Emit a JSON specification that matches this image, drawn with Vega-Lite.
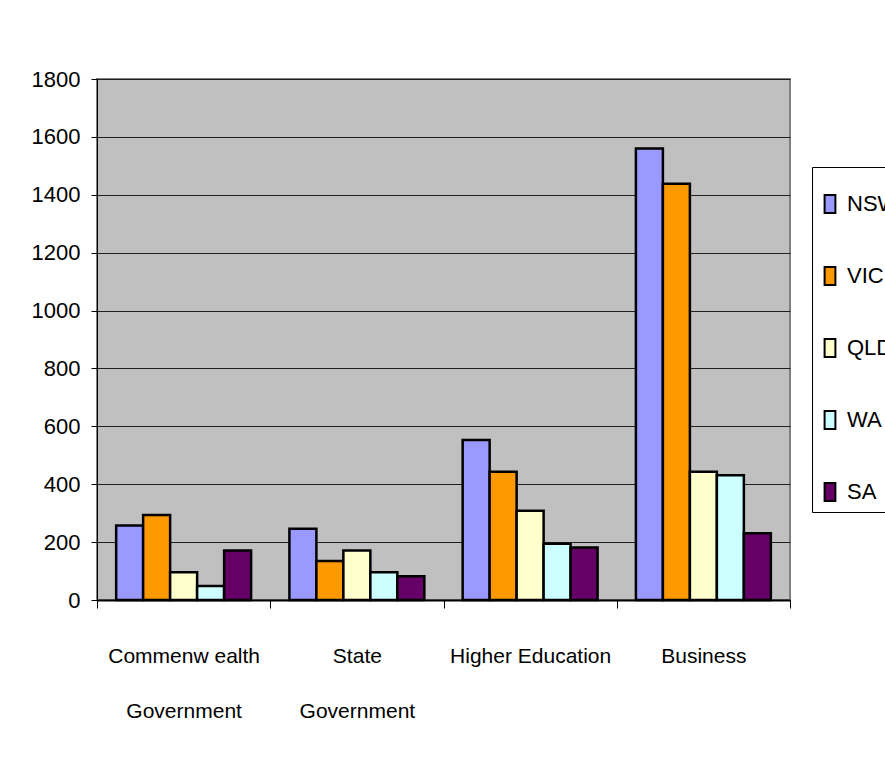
{
  "$schema": "https://vega.github.io/schema/vega-lite/v6.json",
  "width": 693,
  "height": 521,
  "autosize": {"type": "none"},
  "padding": {"left": 97, "top": 79, "right": 95, "bottom": 182},
  "background": "#ffffff",
  "config": {
    "font": "Liberation Sans Narrow, Arial Narrow, Liberation Sans",
    "view": {"fill": "#C0C0C0", "stroke": "#808080", "strokeWidth": 2},
    "axis": {"labelColor": "#000000", "labelFont": "Liberation Sans Narrow, Arial Narrow, Liberation Sans"},
    "legend": {"labelFont": "Liberation Sans Narrow, Arial Narrow, Liberation Sans"}
  },
  "data": {
    "values": [
      {"category": "Commenw ealth Government", "state": "NSW", "value": 257},
      {"category": "Commenw ealth Government", "state": "VIC", "value": 294},
      {"category": "Commenw ealth Government", "state": "QLD", "value": 96},
      {"category": "Commenw ealth Government", "state": "WA", "value": 48},
      {"category": "Commenw ealth Government", "state": "SA", "value": 171},
      {"category": "State Government", "state": "NSW", "value": 246},
      {"category": "State Government", "state": "VIC", "value": 135},
      {"category": "State Government", "state": "QLD", "value": 171},
      {"category": "State Government", "state": "WA", "value": 96},
      {"category": "State Government", "state": "SA", "value": 82},
      {"category": "Higher Education", "state": "NSW", "value": 553},
      {"category": "Higher Education", "state": "VIC", "value": 443},
      {"category": "Higher Education", "state": "QLD", "value": 308},
      {"category": "Higher Education", "state": "WA", "value": 194},
      {"category": "Higher Education", "state": "SA", "value": 181},
      {"category": "Business", "state": "NSW", "value": 1560},
      {"category": "Business", "state": "VIC", "value": 1438},
      {"category": "Business", "state": "QLD", "value": 443},
      {"category": "Business", "state": "WA", "value": 431},
      {"category": "Business", "state": "SA", "value": 231}
    ]
  },
  "mark": {"type": "bar", "stroke": "#000000", "strokeWidth": 2.5},
  "encoding": {
    "x": {
      "field": "category",
      "type": "nominal",
      "sort": null,
      "scale": {"paddingInner": 0, "paddingOuter": 0},
      "axis": {
        "title": null,
        "labelAngle": 0,
        "labelFontSize": 21,
        "labelLineHeight": 55,
        "labelPadding": 37,
        "labelBaseline": "top",
        "labelExpr": "datum.label == 'Commenw ealth Government' ? ['Commenw ealth', 'Government'] : datum.label == 'State Government' ? ['State', 'Government'] : datum.label",
        "tickBand": "extent",
        "tickSize": 8,
        "tickColor": "#000000",
        "tickWidth": 1,
        "domainColor": "#000000",
        "domainWidth": 2,
        "labelColor": "#000000"
      }
    },
    "xOffset": {
      "field": "state",
      "type": "nominal",
      "sort": ["NSW", "VIC", "QLD", "WA", "SA"],
      "scale": {"paddingInner": 0, "paddingOuter": 0.71}
    },
    "y": {
      "field": "value",
      "type": "quantitative",
      "scale": {"domain": [0, 1800], "nice": false},
      "axis": {
        "title": null,
        "format": "d",
        "values": [0, 200, 400, 600, 800, 1000, 1200, 1400, 1600, 1800],
        "labelFontSize": 22,
        "labelPadding": 11,
        "tickSize": 6,
        "tickColor": "#000000",
        "domainColor": "#000000",
        "domainWidth": 1,
        "gridColor": "#202020",
        "gridWidth": 1,
        "gridOpacity": 1,
        "labelColor": "#000000"
      }
    },
    "color": {
      "field": "state",
      "type": "nominal",
      "scale": {
        "domain": ["NSW", "VIC", "QLD", "WA", "SA"],
        "range": ["#9999FF", "#FF9900", "#FFFFCC", "#CCFFFF", "#660066"]
      },
      "legend": {
        "title": " ",
        "titleFontSize": 10,
        "titlePadding": 9,
        "orient": "none",
        "legendX": 715,
        "legendY": 88,
        "direction": "vertical",
        "strokeColor": "#000000",
        "fillColor": "#ffffff",
        "padding": 7,
        "labelFontSize": 22,
        "labelColor": "#000000",
        "labelOffset": 6,
        "rowPadding": 46,
        "symbolType": "M-0.6,-1H0.6V1H-0.6Z",
        "symbolSize": 324,
        "symbolStrokeColor": "#000000",
        "symbolStrokeWidth": 2,
        "symbolOpacity": 1
      }
    }
  }
}
